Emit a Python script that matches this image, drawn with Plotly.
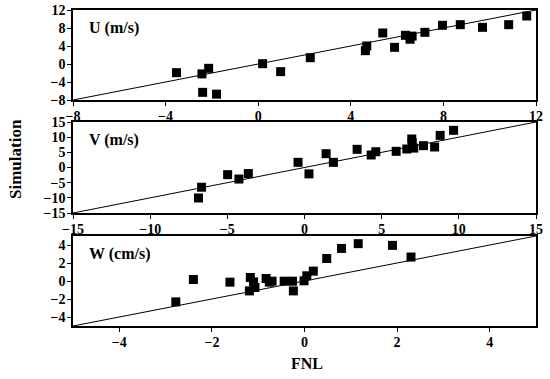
import plotly.graph_objects as go

# ---- data ----
u_fnl = [-3.53, -2.43, -2.14, -2.40, -1.80, 0.19, 0.97, 2.25, 4.63, 4.69, 5.38, 5.89,
         6.36, 6.56, 6.65, 7.20, 7.96, 8.73, 9.69, 10.82, 11.60]
u_sim = [-1.93, -2.20, -0.96, -6.30, -6.70, 0.07, -1.70, 1.40, 2.96, 4.00, 6.89, 3.70,
         6.37, 5.50, 6.20, 7.04, 8.60, 8.74, 8.15, 8.74, 10.67]
v_fnl = [-6.87, -6.67, -4.98, -4.25, -3.64, -0.42, 0.29, 1.40, 1.87, 3.41, 4.32, 4.62,
         5.94, 6.63, 6.95, 6.98, 7.08, 7.71, 8.43, 8.79, 9.66]
v_sim = [-10.05, -6.50, -2.36, -3.80, -2.00, 1.70, -2.10, 4.56, 1.70, 5.99, 4.12, 5.20,
         5.33, 6.10, 9.40, 8.20, 6.40, 7.20, 6.76, 10.60, 12.25]
w_fnl = [-2.78, -2.40, -1.61, -1.17, -1.19, -1.10, -1.07, -0.83, -0.76, -0.70, -0.44,
         -0.26, -0.24, -0.01, 0.05, 0.19, 0.48, 0.80, 1.16, 1.90, 2.30]
w_sim = [-2.32, 0.17, -0.13, 0.39, -1.10, -0.10, -0.72, 0.28, -0.13, -0.02, -0.02,
         -0.02, -1.10, 0.02, 0.58, 1.10, 2.50, 3.62, 4.15, 3.96, 2.66]

u_range = [-8, 12]
v_range = [-15, 15]
w_range = [-5, 5]
u_ticks = [-8, -4, 0, 4, 8, 12]
v_ticks = [-15, -10, -5, 0, 5, 10, 15]
w_ticks_x = [-4, -2, 0, 2, 4]
w_ticks_y = [-4, -2, 0, 2, 4]
labels = ["U (m/s)", "V (m/s)", "W (cm/s)"]

FONT = "Liberation Serif"
W, H = 550, 379
x0, x1 = 73 / W, 536 / W
doms = [(1 - 100 / H, 1 - 10 / H), (1 - 213 / H, 1 - 122 / H), (1 - 326 / H, 1 - 236 / H)]

panels = [
    (u_fnl, u_sim, u_range, u_ticks, u_ticks),
    (v_fnl, v_sim, v_range, v_ticks, v_ticks),
    (w_fnl, w_sim, w_range, w_ticks_x, w_ticks_y),
]

fig = go.Figure()
tickfont = dict(family=FONT, size=14, color="black", weight="bold")
for i, (xs, ys, rng, xt, yt) in enumerate(panels):
    n = "" if i == 0 else str(i + 1)
    xa, ya = "x" + n, "y" + n
    fig.add_trace(go.Scatter(x=rng, y=rng, mode="lines", xaxis=xa, yaxis=ya,
                             line=dict(color="black", width=1), showlegend=False,
                             hoverinfo="skip"))
    fig.add_trace(go.Scatter(x=xs, y=ys, mode="markers", xaxis=xa, yaxis=ya,
                             marker=dict(symbol="square", size=9, color="black",
                                         line=dict(width=0)),
                             showlegend=False, cliponaxis=False))
    common = dict(showline=True, linecolor="black", linewidth=1.5, mirror=True,
                  ticks="outside", ticklen=4, tickwidth=1.2, tickcolor="black",
                  showgrid=False, zeroline=False, tickfont=tickfont, automargin=False,
                  ticklabeloverflow="allow")
    fig.layout["xaxis" + n] = dict(domain=[x0, x1], range=rng, tickvals=xt,
                                   anchor=ya, ticklabelstandoff=-2, **common)
    fig.layout["yaxis" + n] = dict(domain=list(doms[i]), range=rng, tickvals=yt,
                                   anchor=xa, ticklabelstandoff=-1, **common)
    fig.add_annotation(text=labels[i], xref=xa + " domain", yref=ya + " domain",
                       x=0.03, y=0.80, xanchor="left", yanchor="middle",
                       showarrow=False,
                       font=dict(family=FONT, size=16, color="black", weight="bold"))

fig.add_annotation(text="FNL", xref="paper", yref="paper", x=307 / W, y=1 - 363 / H,
                   xanchor="center", yanchor="middle", showarrow=False,
                   font=dict(family=FONT, size=16, color="black", weight="bold"))
fig.add_annotation(text="Simulation", xref="paper", yref="paper", x=15 / W, y=1 - 159 / H,
                   xanchor="center", yanchor="middle", showarrow=False, textangle=-90,
                   font=dict(family=FONT, size=17, color="black", weight="bold"))

fig.update_layout(width=W, height=H, margin=dict(l=0, r=0, t=0, b=0),
                  paper_bgcolor="white", plot_bgcolor="white")
fig.write_html("out.html", config={"displayModeBar": False},
               post_script="document.body.style.margin='0';document.body.style.padding='0';")
